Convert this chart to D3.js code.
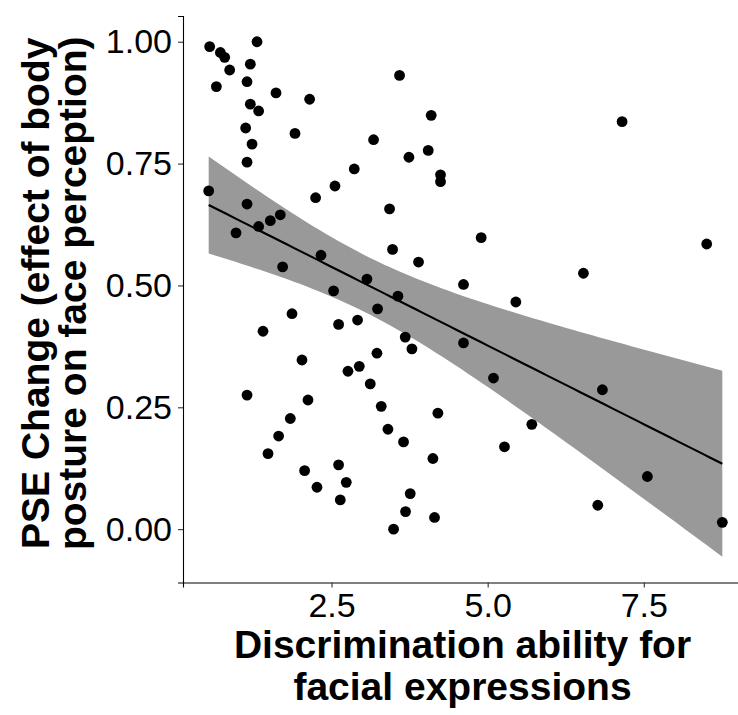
<!DOCTYPE html>
<html>
<head>
<meta charset="utf-8">
<script src="https://cdn.jsdelivr.net/npm/d3@7"></script>
<style>
  html, body { margin: 0; padding: 0; background: #fff; }
  svg { display: block; }
</style>
</head>
<body>
<svg id="chart" width="738" height="715"></svg>
<script>
// Discrimination ability (x) and PSE change (y), one entry per participant
const discrimination = [
  0.549, 0.720, 0.789, 1.307, 0.869, 1.200, 0.656, 1.147, 1.611, 2.149,
  1.200, 1.333, 1.125, 1.915, 1.227, 3.173, 1.147, 2.864, 2.555, 0.533,
  2.245, 1.147, 1.680, 1.520, 1.333, 0.971, 2.331, 1.717, 3.067, 2.533,
  3.237, 1.867, 2.613, 2.917, 1.403, 3.227, 2.027, 2.763, 2.944, 3.120,
  1.147, 2.123, 3.296, 1.840, 1.653, 1.483, 2.069, 2.613, 2.267, 2.736,
  2.640, 4.203, 3.403, 3.653, 4.123, 5.707, 5.269, 3.760, 3.685, 4.149,
  3.493, 6.837, 7.557, 6.763, 8.757, 6.533, 8.507, 7.152, 3.589, 4.096,
  4.048, 3.739, 4.245, 4.245, 3.429, 4.896, 3.477, 3.893, 4.613, 5.451,
  3.563, 3.680, 3.787, 4.613, 5.093
];
const pseChange = [
  0.990, 0.978, 0.968, 1.000, 0.942, 0.954, 0.908, 0.918, 0.895, 0.882,
  0.872, 0.858, 0.823, 0.812, 0.790, 0.799, 0.753, 0.739, 0.704, 0.694,
  0.680, 0.667, 0.645, 0.633, 0.621, 0.608, 0.562, 0.538, 0.513, 0.489,
  0.452, 0.442, 0.420, 0.429, 0.406, 0.361, 0.347, 0.324, 0.334, 0.298,
  0.275, 0.265, 0.252, 0.227, 0.191, 0.155, 0.120, 0.132, 0.086, 0.096,
  0.060, 0.238, 0.205, 0.179, 0.145, 0.215, 0.169, 0.073, 0.036, 0.024,
  0.000, 0.286, 0.108, 0.049, 0.014, 0.525, 0.585, 0.836, 0.931, 0.849,
  0.777, 0.763, 0.727, 0.713, 0.657, 0.598, 0.574, 0.548, 0.502, 0.466,
  0.478, 0.394, 0.370, 0.382, 0.310
];
const xTicks = [2.5, 5.0, 7.5];
const yTicks = [0, 0.25, 0.5, 0.75, 1.0];
const xTitle = ["Discrimination ability for", "facial expressions"];
const yTitle = ["PSE Change (effect of body", "posture on face perception)"];

const points = discrimination.map((x, i) => ({ x, y: pseChange[i] }));

// Ordinary least squares fit with a 95% confidence band
const n = points.length;
const mx = d3.mean(points, d => d.x);
const my = d3.mean(points, d => d.y);
const sxx = d3.sum(points, d => (d.x - mx) ** 2);
const sxy = d3.sum(points, d => (d.x - mx) * (d.y - my));
const slope = sxy / sxx;
const intercept = my - slope * mx;
const rss = d3.sum(points, d => (d.y - (intercept + slope * d.x)) ** 2);
const sigma = Math.sqrt(rss / (n - 2));
const tCrit = 1.989; // t(0.975, df = 83)

const [xMin, xMax] = d3.extent(points, d => d.x);
const fit = d3.range(80).map(i => {
  const x = xMin + (xMax - xMin) * i / 79;
  const yhat = intercept + slope * x;
  const se = sigma * Math.sqrt(1 / n + (x - mx) ** 2 / sxx);
  return { x, y: yhat, lo: yhat - tCrit * se, hi: yhat + tCrit * se };
});

// Panel geometry and expanded data ranges
const panel = { left: 183, right: 748, top: 16, bottom: 582.5 };
const expand = ([a, b]) => { const p = (b - a) * 0.05; return [a - p, b + p]; };
const yLo = Math.min(d3.min(points, d => d.y), d3.min(fit, d => d.lo));
const yHi = Math.max(d3.max(points, d => d.y), d3.max(fit, d => d.hi));

const x = d3.scaleLinear().domain(expand([xMin, xMax])).range([panel.left, panel.right]);
const y = d3.scaleLinear().domain(expand([yLo, yHi])).range([panel.bottom, panel.top]);

const svg = d3.select("#chart");
const font = "'Liberation Sans', Arial, sans-serif";

// Confidence band
svg.append("path")
  .datum(fit)
  .attr("fill", "#999999")
  .attr("d", d3.area().x(d => x(d.x)).y0(d => y(d.lo)).y1(d => y(d.hi)));

// Fitted line
svg.append("path")
  .datum(fit)
  .attr("fill", "none")
  .attr("stroke", "#000")
  .attr("stroke-width", 2.1)
  .attr("d", d3.line().x(d => x(d.x)).y(d => y(d.y)));

// Participants
svg.append("g")
  .selectAll("circle")
  .data(points)
  .join("circle")
  .attr("cx", d => x(d.x))
  .attr("cy", d => y(d.y))
  .attr("r", 5.4)
  .attr("fill", "#000");

// Axes
const xAxis = svg.append("g")
  .attr("transform", `translate(0,${panel.bottom})`)
  .call(d3.axisBottom(x).tickValues(xTicks).tickFormat(d3.format(".1f")).tickSizeOuter(0).tickSize(5).tickPadding(5));
const yAxis = svg.append("g")
  .attr("transform", `translate(${panel.left},0)`)
  .call(d3.axisLeft(y).tickValues(yTicks).tickFormat(d3.format(".2f")).tickSizeOuter(0).tickSize(5).tickPadding(6));

[xAxis, yAxis].forEach(g => {
  g.select(".domain").attr("stroke", "#000").attr("stroke-width", 1.1);
  g.selectAll(".tick line").attr("stroke", "#333").attr("stroke-width", 1.1);
  g.selectAll(".tick text")
    .attr("fill", "#000")
    .style("font-family", font)
    .style("font-size", "34px");
});

// Axis titles
const cx = (panel.left + panel.right) / 2;
svg.append("text")
  .attr("text-anchor", "middle")
  .style("font-family", font)
  .style("font-size", "39px")
  .style("font-weight", "bold")
  .selectAll("tspan")
  .data(xTitle)
  .join("tspan")
  .attr("x", cx - 3)
  .attr("y", (d, i) => 658 + i * 42)
  .text(d => d);

const cy = (panel.top + panel.bottom) / 2;
svg.append("text")
  .attr("text-anchor", "middle")
  .attr("transform", `translate(0,${cy - 6}) rotate(-90)`)
  .style("font-family", font)
  .style("font-size", "39px")
  .style("font-weight", "bold")
  .selectAll("tspan")
  .data(yTitle)
  .join("tspan")
  .attr("x", 0)
  .attr("y", (d, i) => 49 + i * 37)
  .text(d => d);
</script>
</body>
</html>
